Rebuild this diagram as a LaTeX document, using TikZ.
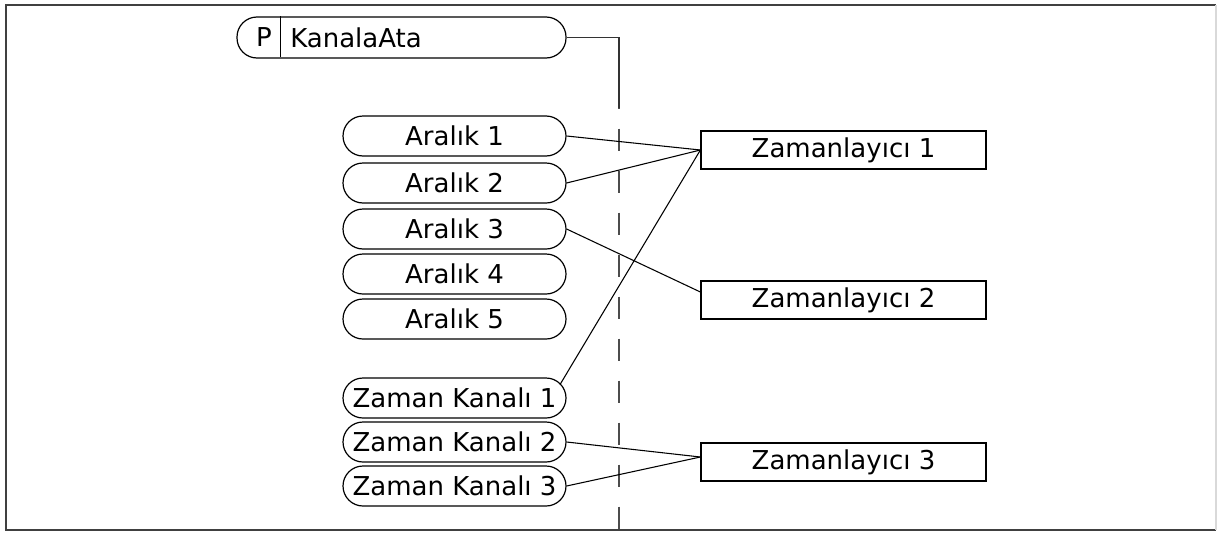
\documentclass[tikz,border=0pt]{standalone}
\usepackage{fontspec}
\setmainfont{DejaVu Sans}
\usepackage{tikz}
\usetikzlibrary{calc}

\begin{document}
\begin{tikzpicture}[x=0.75pt, y=-0.75pt,
  pill/.style={draw, rectangle, rounded corners=15pt, line width=0.9pt, minimum width=167.25pt, minimum height=30pt, inner sep=0pt, font=\fontsize{19.5}{23}\selectfont},
  timer/.style={draw, rectangle, line width=0.9pt, minimum width=213.75pt, minimum height=28.5pt, inner sep=0pt, font=\fontsize{19.5}{23}\selectfont},
  lbl/.style={inner sep=0pt, font=\fontsize{19.5}{23}\selectfont},
  wire/.style={line width=0.8pt}]
\useasboundingbox (0,0) rectangle (1217,532);
% frame
\draw[line width=1.2pt, black!75] (1216,5) -- (6,5) -- (6,530) -- (1216,530);
\draw[line width=1.2pt, black!15] (1216,5) -- (1216,530);

% parameter
\node[pill, minimum width=246.75pt, minimum height=30.75pt] (ata) at (401.5,37.5) {};
\node[lbl] (ataP) at (264,37.5) {P};
\node[lbl, anchor=west] (ataName) at (290,37.5) {KanalaAta};
\draw[wire] (ata.north west) ++(44,0) -- ++(0,41);

% separator
\coordinate (sepTop) at (619,108);
\coordinate (sepEnd) at (619,530);
\draw[wire, black!80] (ata.east) -| (sepTop);
\draw[wire, black!70, dash pattern=on 16.5pt off 15pt, dash phase=-15.5pt] (sepTop) -- (sepEnd);

% intervals
\node[pill] (ar1) at (454.5,136) {Aralık 1};
\node[pill] (ar2) at (454.5,183) {Aralık 2};
\node[pill] (ar3) at (454.5,229) {Aralık 3};
\node[pill] (ar4) at (454.5,274) {Aralık 4};
\node[pill] (ar5) at (454.5,319) {Aralık 5};

% time channels
\node[pill] (zk1) at (454.5,398) {Zaman Kanalı 1};
\node[pill] (zk2) at (454.5,442) {Zaman Kanalı 2};
\node[pill] (zk3) at (454.5,486) {Zaman Kanalı 3};

% timers
\node[timer] (zt1) at (843.5,150) {Zamanlayıcı 1};
\node[timer] (zt2) at (843.5,300) {Zamanlayıcı 2};
\node[timer] (zt3) at (843.5,462) {Zamanlayıcı 3};

% assignments
\draw[wire] (ar1.east) -- (zt1.west);
\draw[wire] (ar2.east) -- (zt1.west);
\draw[wire] ([xshift=-5pt, yshift=10pt]zk1.east) -- (zt1.west);
\draw[wire] (ar3.east) -- ([yshift=6pt]zt2.west);
\draw[wire] (zk2.east) -- ([yshift=3.75pt]zt3.west);
\draw[wire] (zk3.east) -- ([yshift=3.75pt]zt3.west);
\end{tikzpicture}
\end{document}
